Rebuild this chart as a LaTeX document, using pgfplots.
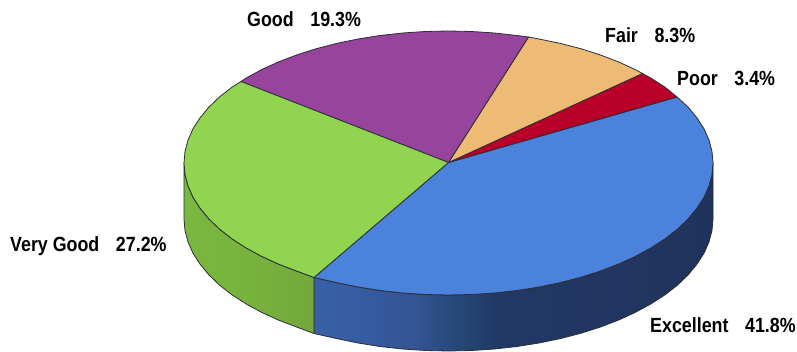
\documentclass[border=0pt]{standalone}
\usepackage{pgfplots}
\usepackage{fontspec}
\pgfplotsset{compat=1.18}
\setmainfont[FakeStretch=0.87]{Liberation Sans}
\definecolor{cExc}{RGB}{74,130,220}
\definecolor{cVG}{RGB}{144,212,80}
\definecolor{cGood}{RGB}{151,68,156}
\definecolor{cFair}{RGB}{237,187,115}
\definecolor{cPoor}{RGB}{184,0,40}
\definecolor{edge}{RGB}{45,45,55}
\pgfdeclarehorizontalshading{blueside}{100bp}{
 rgb(0bp)=(0.22,0.38,0.66);
 rgb(25bp)=(0.22,0.38,0.66);
 rgb(33bp)=(0.21,0.35,0.62);
 rgb(38bp)=(0.20,0.33,0.57);
 rgb(43bp)=(0.15,0.28,0.46);
 rgb(48bp)=(0.13,0.22,0.40);
 rgb(75bp)=(0.125,0.20,0.36);
 rgb(100bp)=(0.125,0.20,0.36)}
\pgfdeclarehorizontalshading{greenside}{100bp}{
 rgb(0bp)=(0.48,0.72,0.25);
 rgb(25bp)=(0.48,0.72,0.25);
 rgb(50bp)=(0.47,0.70,0.24);
 rgb(75bp)=(0.45,0.66,0.23);
 rgb(100bp)=(0.45,0.66,0.23)}
\newcommand{\lab}[4]{\node[anchor=base west,inner sep=0pt,font=\fontsize{20.5}{22}\selectfont\bfseries] at (axis cs:#1,#2) {#3\hspace{16.6pt}#4};}
\begin{document}
\begin{tikzpicture}
\begin{axis}[
  scale only axis, width=797pt, height=352pt,
  xmin=0, xmax=797, ymin=0, ymax=352, y dir=reverse,
  hide axis, clip=false,
  every axis plot/.append style={line join=round, line width=0.8pt, draw=edge, mark=none, solid}]
% side walls
\addplot[shade, shading=blueside] coordinates {(314,277.5)(336.7,282.6)(358,287)(380,290.5)(402.6,293)(425.4,294.5)(448.5,295)(471.6,294.5)(494.4,293)(517,290.5)(539,287)(560.3,282.6)(580.8,277.3)(600.2,271.1)(618.5,264.1)(635.5,256.3)(651.1,247.8)(665.2,238.7)(677.6,229)(688.2,218.8)(697,208.1)(704,197.2)(709,185.9)(712,174.5)(713,163)(713,219)(712,230.5)(709,241.9)(704,253.2)(697,264.1)(688.2,274.8)(677.6,285)(665.2,294.7)(651.1,303.8)(635.5,312.3)(618.5,320.1)(600.2,327.1)(580.8,333.3)(560.3,338.6)(539,343)(517,346.5)(494.4,349)(471.6,350.5)(448.5,351)(425.4,350.5)(402.6,349)(380,346.5)(358,343)(336.7,338.6)(314,333.5)} -- cycle;
\addplot[shade, shading=greenside] coordinates {(184,163)(185,174.5)(188,185.9)(193,197.2)(200,208.1)(208.8,218.8)(219.4,229)(231.8,238.7)(245.9,247.8)(261.5,256.3)(278.5,264.1)(296.8,271.1)(314,277.5)(314,333.5)(296.8,327.1)(278.5,320.1)(261.5,312.3)(245.9,303.8)(231.8,294.7)(219.4,285)(208.8,274.8)(200,264.1)(193,253.2)(188,241.9)(185,230.5)(184,219)} -- cycle;
% top face: Excellent, Poor, Fair, Good, Very Good
\addplot[fill=cExc] coordinates {(448.5,162.5)(677,97)(688.2,107.2)(697,117.9)(704,128.8)(709,140.1)(712,151.5)(713,163)(712,174.5)(709,185.9)(704,197.2)(697,208.1)(688.2,218.8)(677.6,229)(665.2,238.7)(651.1,247.8)(635.5,256.3)(618.5,264.1)(600.2,271.1)(580.8,277.3)(560.3,282.6)(539,287)(517,290.5)(494.4,293)(471.6,294.5)(448.5,295)(425.4,294.5)(402.6,293)(380,290.5)(358,287)(336.7,282.6)(314,277.5)} -- cycle;
\addplot[fill=cPoor] coordinates {(448.5,162.5)(677,97)(665.2,87.3)(651.1,78.2)(642.5,73.5)} -- cycle;
\addplot[fill=cFair] coordinates {(448.5,162.5)(642.5,73.5)(635.5,69.7)(618.5,61.9)(600.2,54.9)(580.8,48.7)(560.3,43.4)(539,39)(528.5,37)} -- cycle;
\addplot[fill=cGood] coordinates {(448.5,162.5)(528.5,37)(517,35.5)(494.4,33)(471.6,31.5)(448.5,31)(425.4,31.5)(402.6,33)(380,35.5)(358,39)(336.7,43.4)(316.2,48.7)(296.8,54.9)(278.5,61.9)(261.5,69.7)(245.9,78.2)(241,81.5)} -- cycle;
\addplot[fill=cVG] coordinates {(448.5,162.5)(241,81.5)(231.8,87.3)(219.4,97)(208.8,107.2)(200,117.9)(193,128.8)(188,140.1)(185,151.5)(184,163)(185,174.5)(188,185.9)(193,197.2)(200,208.1)(208.8,218.8)(219.4,229)(231.8,238.7)(245.9,247.8)(261.5,256.3)(278.5,264.1)(296.8,271.1)(314,277.5)} -- cycle;
\lab{247}{26.5}{Good}{19.3\%}
\lab{605}{43}{Fair}{8.3\%}
\lab{677}{86}{Poor}{3.4\%}
\lab{10}{252}{Very Good}{27.2\%}
\lab{650}{332}{Excellent}{41.8\%}
\end{axis}
\pgfresetboundingbox
\useasboundingbox (0,0) rectangle (797pt,352pt);
\end{tikzpicture}
\end{document}
